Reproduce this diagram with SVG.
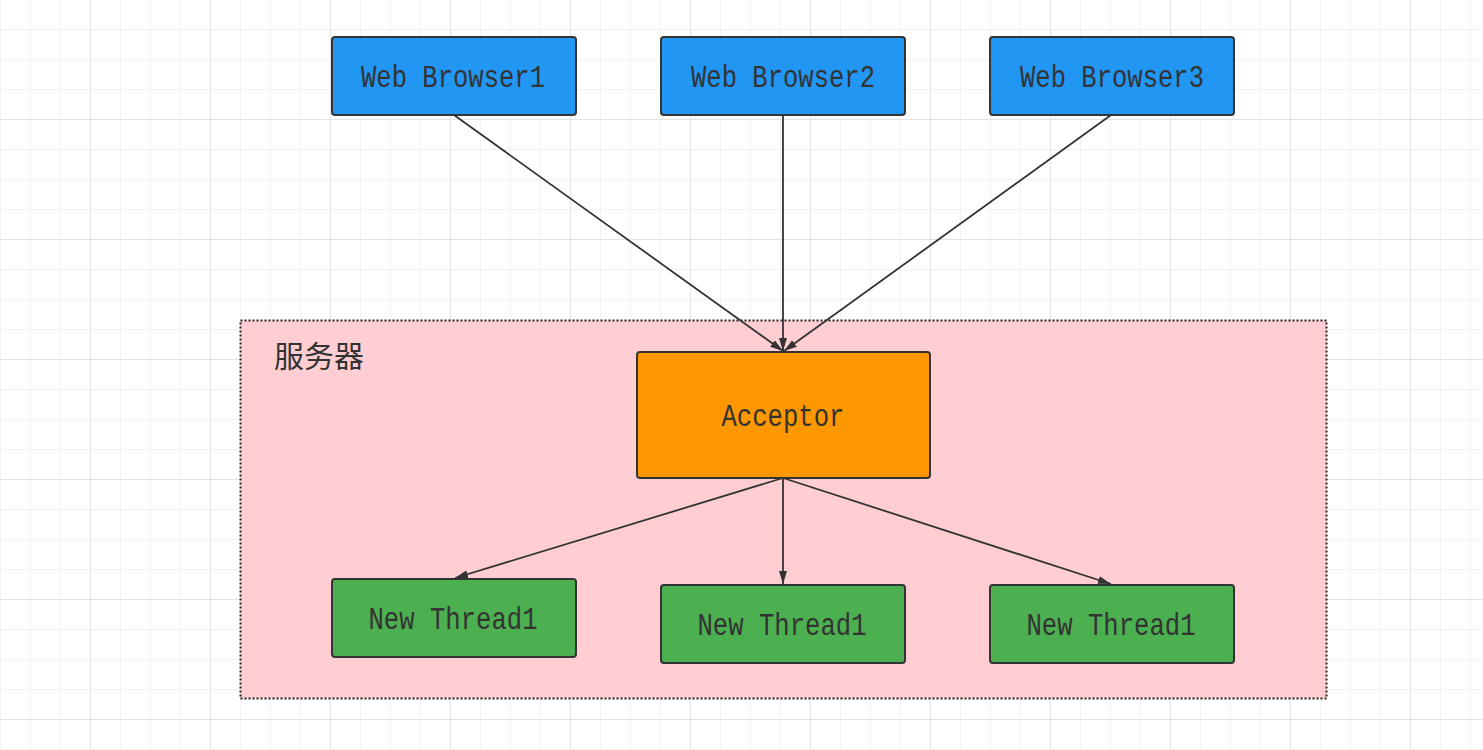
<svg xmlns="http://www.w3.org/2000/svg" width="1483" height="750" viewBox="0 0 1483 750">
  <style>
    .node { stroke: #333333; stroke-width: 2; }
    .blue { fill: #2196f3; }
    .orange { fill: #ff9800; }
    .green { fill: #4caf50; }
    .lbl { font-family: "Liberation Mono", "DejaVu Sans Mono", monospace; font-size: 31px; fill: #333333; text-anchor: middle; }
    .edge { stroke: #333333; stroke-width: 1.8; fill: none; marker-end: url(#arrow); }
  </style>
  <defs>
    <pattern id="grid" width="120" height="120" patternUnits="userSpaceOnUse" x="-30" y="-1">
      <rect x="30" y="0" width="1" height="120" fill="#f2f2f2"/>
      <rect x="60" y="0" width="1" height="120" fill="#f2f2f2"/>
      <rect x="90" y="0" width="1" height="120" fill="#f2f2f2"/>
      <rect x="0" y="30" width="120" height="1" fill="#f2f2f2"/>
      <rect x="0" y="60" width="120" height="1" fill="#f2f2f2"/>
      <rect x="0" y="90" width="120" height="1" fill="#f2f2f2"/>
      <rect x="0" y="0" width="1" height="120" fill="#e3e3e3"/>
      <rect x="0" y="0" width="120" height="1" fill="#e3e3e3"/>
    </pattern>
    <marker id="arrow" viewBox="0 0 13 8" markerWidth="13" markerHeight="8" refX="13" refY="4" orient="auto" markerUnits="userSpaceOnUse">
      <path d="M0,0 L13,4 L0,8 z" fill="#333333"/>
    </marker>
  </defs>

  <rect width="1483" height="750" fill="#ffffff"/>
  <rect width="1483" height="750" fill="url(#grid)"/>

  <g id="server">
    <rect x="240.5" y="320.5" width="1086" height="378" fill="#ffcdd2" stroke="#222222" stroke-width="2" stroke-dasharray="2 2"/>
    <text x="274" y="367" font-family="'Noto Sans CJK SC', sans-serif" font-size="30" fill="#333333">服务器</text>
  </g>

  <g id="connectors">
    <line class="edge" x1="454" y1="115" x2="783" y2="351"/>
    <line class="edge" x1="783" y1="115" x2="783" y2="351"/>
    <line class="edge" x1="1111" y1="115" x2="784" y2="351"/>
    <line class="edge" x1="783" y1="478" x2="455" y2="578"/>
    <line class="edge" x1="783" y1="478" x2="783" y2="584"/>
    <line class="edge" x1="783" y1="478" x2="1111" y2="584"/>
  </g>

  <g id="browser1">
    <rect class="node blue" x="332" y="37" width="244" height="78" rx="3"/>
    <text class="lbl" x="453" y="87" textLength="184" lengthAdjust="spacingAndGlyphs">Web Browser1</text>
  </g>
  <g id="browser2">
    <rect class="node blue" x="661" y="37" width="244" height="78" rx="3"/>
    <text class="lbl" x="783" y="87" textLength="184" lengthAdjust="spacingAndGlyphs">Web Browser2</text>
  </g>
  <g id="browser3">
    <rect class="node blue" x="990" y="37" width="244" height="78" rx="3"/>
    <text class="lbl" x="1112" y="87" textLength="184" lengthAdjust="spacingAndGlyphs">Web Browser3</text>
  </g>

  <g id="acceptor">
    <rect class="node orange" x="637" y="352" width="293" height="126" rx="3"/>
    <text class="lbl" x="783" y="426" textLength="123" lengthAdjust="spacingAndGlyphs">Acceptor</text>
  </g>

  <g id="thread1">
    <rect class="node green" x="332" y="579" width="244" height="78" rx="3"/>
    <text class="lbl" x="453" y="629" textLength="169" lengthAdjust="spacingAndGlyphs">New Thread1</text>
  </g>
  <g id="thread2">
    <rect class="node green" x="661" y="585" width="244" height="78" rx="3"/>
    <text class="lbl" x="782" y="635" textLength="169" lengthAdjust="spacingAndGlyphs">New Thread1</text>
  </g>
  <g id="thread3">
    <rect class="node green" x="990" y="585" width="244" height="78" rx="3"/>
    <text class="lbl" x="1111" y="635" textLength="169" lengthAdjust="spacingAndGlyphs">New Thread1</text>
  </g>
</svg>
